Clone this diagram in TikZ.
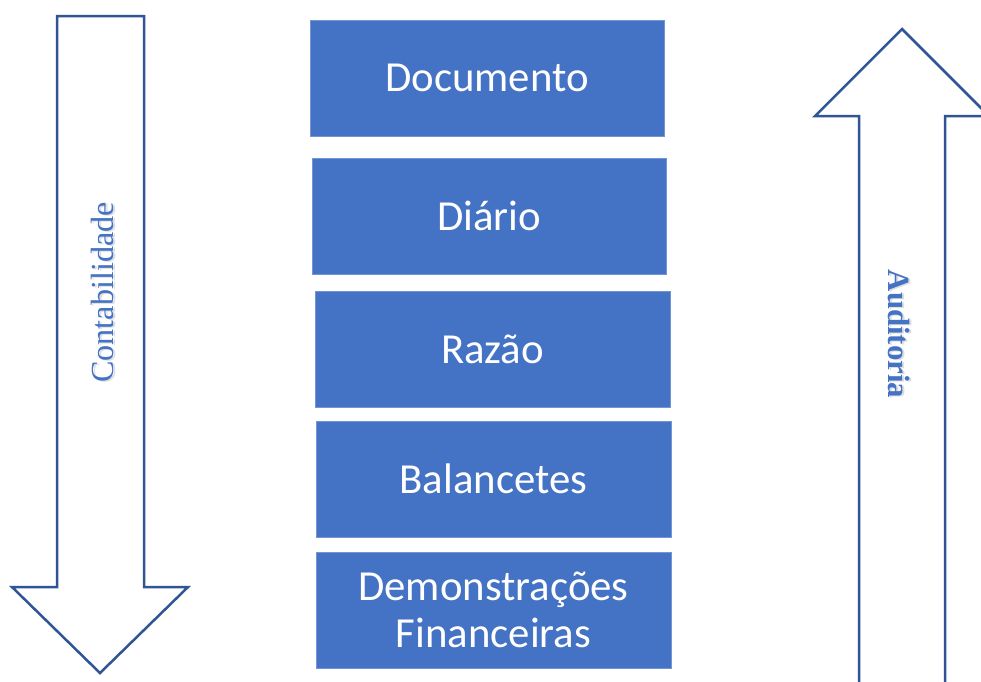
\documentclass[tikz,border=0pt]{standalone}
\usepackage{fontspec}
\setmainfont{Carlito}
\newfontfamily\timesfont{Liberation Serif}
\definecolor{boxblue}{HTML}{4472C4}
\definecolor{arrowblue}{HTML}{2F5597}
\begin{document}
\begin{tikzpicture}[x=1pt,y=-1pt,
  stepbox/.style={fill=boxblue, draw=boxblue!75!white, line width=0.6pt, text=white,
    font=\fontsize{42.8}{47}\selectfont, align=center},
  bigarrow/.style={draw=arrowblue, line width=2.5pt, fill=white, line join=miter},
  arrowlabel/.style={text=boxblue, inner sep=0pt},
  shadowlabel/.style={text=black!25, inner sep=0pt, opacity=0.5}]
\clip (0,0) rectangle (981,681);
\useasboundingbox (0,0) rectangle (981,681);
\fill[white] (0,0) rectangle (981,681);

% left arrow (Contabilidade)
\draw[bigarrow] (57,16) -- (144,16) -- (144,587) -- (188,587) -- (100,673)
  -- (12,587) -- (57,587) -- cycle;
% right arrow (Auditoria)
\draw[bigarrow] (859,700) -- (859,116) -- (815,116) -- (902,29) -- (989,116)
  -- (945,116) -- (945,700);

\node[shadowlabel, rotate=90, font=\timesfont\fontsize{32.2}{38}\selectfont] (contsh) at (104,293.5) {Contabilidade};
\node[arrowlabel, rotate=90, font=\timesfont\fontsize{32.2}{38}\selectfont] (cont) at (102,292.5) {Contabilidade};
\node[shadowlabel, rotate=-90, font=\timesfont\bfseries\fontsize{30.8}{36}\selectfont] (audsh) at (901,335) {Auditoria};
\node[arrowlabel, rotate=-90, font=\timesfont\bfseries\fontsize{30.8}{36}\selectfont] (aud) at (899,334) {Auditoria};

% boxes
\node[stepbox, minimum width=354pt, minimum height=116pt] (doc) at (487,78) {Documento};
\node[stepbox, minimum width=354pt, minimum height=116pt] (dia) at (489,216) {Diário};
\node[stepbox, minimum width=355pt, minimum height=116pt] (raz) at (492.5,349.5) {Razão};
\node[stepbox, minimum width=355pt, minimum height=116pt] (bal) at (493.5,479) {Balancetes};
\node[stepbox, minimum width=355pt, minimum height=116pt, inner sep=0pt] (dem) at (493.5,610) {Demonstrações\\Financeiras};
\end{tikzpicture}
\end{document}
